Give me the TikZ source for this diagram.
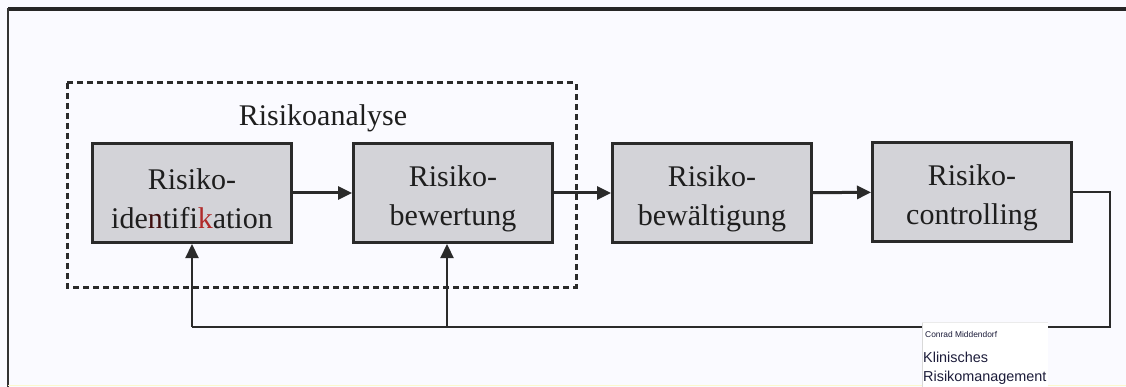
\documentclass[tikz,border=0pt]{standalone}
\usepackage{fontspec}
\setmainfont{Liberation Serif}
\newfontfamily\capfont{Liberation Sans}
\usetikzlibrary{arrows.meta}
\definecolor{boxfill}{HTML}{D3D3D8}
\definecolor{boxline}{HTML}{2A2A2A}
\definecolor{txt}{HTML}{1E1E1E}
\definecolor{capcol}{HTML}{1C1C3A}
\definecolor{redk}{HTML}{B02A2A}
\newcommand{\toppad}{\rule{0pt}{32pt}}
\tikzset{
  stepbox/.style={draw=boxline, fill=boxfill, line width=3pt, rectangle,
    minimum width=199pt, minimum height=99pt, align=center, text=txt,
    font=\fontsize{30}{39}\selectfont, inner sep=0pt},
  conn/.style={draw=boxline, line width=3pt, -{Triangle[length=14pt,width=13pt]}},
  fb/.style={draw=boxline, line width=2.8pt},
  fbup/.style={draw=boxline, line width=2.2pt, -{Triangle[length=14pt,width=13pt]}},
  dashframe/.style={draw=boxline, line width=3pt, dash pattern=on 6pt off 4pt},
}
\begin{document}
\begin{tikzpicture}[x=1pt,y=-1pt]
\useasboundingbox (0,0) rectangle (1126,387);
\fill[white!98!blue] (0,0) rectangle (1126,387);
% outer frame
\draw[line width=3.5pt, color=black!85] (8,9) -- (1126,9);
\draw[line width=2.2pt, color=black!80] (8,8) -- (8,387);
\draw[line width=1pt, color=black!10!yellow!20] (8,385.5) -- (1126,385.5);
% dashed analysis frame
\draw[dashframe] (67,83) rectangle (576,287);
\node[text=txt, font=\fontsize{30}{34}\selectfont] (lab) at (323,118) {Risikoanalyse};
% boxes
\node[stepbox] (b1) at (192,193) {\toppad Risiko-\\ide\textcolor{redk!35!black}{n}tifi\textcolor{redk}{k}ation};
\node[stepbox] (b2) at (453,193) {\toppad Risiko-\\bewertung};
\node[stepbox] (b3) at (712,193) {\toppad Risiko-\\bewältigung};
\node[stepbox] (b4) at (972,192) {\toppad Risiko-\\controlling};
% forward arrows
\draw[conn] (b1) -- (b2);
\draw[conn] (b2) -- (b3);
\draw[conn] (b3) -- (b4);
% feedback loop
\coordinate (cr) at (1110,327);
\coordinate (cl) at (192,327);
\coordinate (cm) at (447,327);
\draw[fb] (b4.east) -- (b4.east -| cr) -- (cr) -- (cl);
\draw[fbup] (cl) -- (b1.south);
\draw[fbup] (cm) -- (cm |- b2.south);
% caption
\fill[white] (922,322) rectangle (1048,387);
\draw[line width=0.6pt, color=black!15] (922,322) -- (922,387);
\draw[line width=0.6pt, color=black!8] (922,322) -- (1048,322);
\node[anchor=base west, inner sep=0pt, text=capcol, font=\capfont\fontsize{8.4}{10}\selectfont] (c1) at (925,337) {Conrad Middendorf};
\node[anchor=base west, inner sep=0pt, text=capcol, font=\capfont\fontsize{14.4}{18}\selectfont] (c2) at (923,362) {Klinisches};
\node[anchor=base west, inner sep=0pt, text=capcol, font=\capfont\fontsize{14.4}{18}\selectfont] (c3) at (923,381) {Risikomanagement};
\end{tikzpicture}
\end{document}
